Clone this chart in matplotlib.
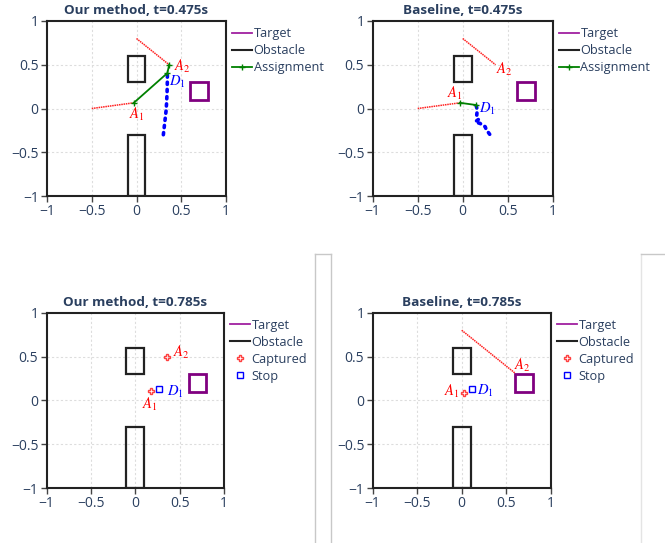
import numpy as np
import matplotlib
matplotlib.use("Agg")
import matplotlib.pyplot as plt
from matplotlib.patches import Rectangle
from matplotlib.lines import Line2D

plt.rcParams['font.family'] = ['Open Sans', 'DejaVu Sans']
plt.rcParams['mathtext.fontset'] = 'stix'

TXT = '#2a3f5f'

# panel titles
titles = ['Our method, t=0.475s', 'Baseline, t=0.475s',
          'Our method, t=0.785s', 'Baseline, t=0.785s']

# static scene
obstacles = [(-0.1, 0.3, 0.2, 0.3), (-0.1, -1.0, 0.2, 0.7)]
target = (0.6, 0.1, 0.2, 0.2)

# top row, t=0.475
a1_x = [-0.5, -0.03]
a1_y = [0.0, 0.065]
a2_x = [0.0, 0.365]
a2_y = [0.8, 0.5]
a2_late_x = [0.0, 0.6]
a2_late_y = [0.8, 0.31]

d1_ours_x = [0.30, 0.305, 0.31, 0.315, 0.32, 0.325, 0.33, 0.333, 0.336,
             0.338, 0.34, 0.342, 0.343, 0.344, 0.345, 0.345, 0.345]
d1_ours_y = [-0.30, -0.255, -0.21, -0.165, -0.12, -0.075, -0.03, 0.015, 0.06,
             0.105, 0.15, 0.195, 0.24, 0.285, 0.33, 0.375, 0.405]
d1_base_x = [0.30, 0.26, 0.25, 0.19, 0.16, 0.14, 0.178, 0.156, 0.162, 0.148]
d1_base_y = [-0.295, -0.238, -0.208, -0.169, -0.162, -0.151, -0.123, -0.074, -0.017, 0.04]

assign_ours_x = [-0.03, 0.345, 0.365]
assign_ours_y = [0.065, 0.405, 0.5]
assign_base_x = [-0.03, 0.148]
assign_base_y = [0.065, 0.04]

# bottom row, t=0.785
capt_ours_x = [0.177, 0.36]
capt_ours_y = [0.11, 0.498]
stop_ours = (0.27, 0.125)
capt_base_x = [0.026]
capt_base_y = [0.087]
stop_base = (0.112, 0.125)

# label positions: (text, x, y, colour)
labels = [
    [('$A_1$', 0.0, -0.07, 'red'), ('$A_2$', 0.51, 0.48, 'red'), ('$D_1$', 0.46, 0.30, 'blue')],
    [('$A_1$', -0.085, 0.17, 'red'), ('$A_2$', 0.46, 0.45, 'red'), ('$D_1$', 0.27, 0.0, 'blue')],
    [('$A_1$', 0.165, -0.05, 'red'), ('$A_2$', 0.52, 0.55, 'red'), ('$D_1$', 0.45, 0.10, 'blue')],
    [('$A_1$', -0.11, 0.10, 'red'), ('$A_2$', 0.685, 0.40, 'red'), ('$D_1$', 0.27, 0.105, 'blue')],
]

W, H = 665, 543
fig = plt.figure(figsize=(W / 100, H / 100), dpi=100)

boxes = [(47, 226, 21, 196), (372.7, 552.7, 21, 196),
         (46.7, 224, 312.7, 488), (372.7, 550.7, 312.7, 488)]


def make_ax(b):
    l, r, t, bt = b
    ax = fig.add_axes([l / W, 1 - bt / H, (r - l) / W, (bt - t) / H])
    ax.set_xlim(-1, 1)
    ax.set_ylim(-1, 1)
    ticks = [-1, -0.5, 0, 0.5, 1]
    ax.set_xticks(ticks)
    ax.set_yticks(ticks)
    ax.set_xticklabels(['\u22121', '\u22120.5', '0', '0.5', '1'])
    ax.set_yticklabels(['\u22121', '\u22120.5', '0', '0.5', '1'])
    ax.tick_params(direction='out', length=4, width=1, color='#444444',
                   labelcolor=TXT, labelsize=10, pad=2)
    for s in ax.spines.values():
        s.set_linewidth(1.5)
        s.set_color('#222222')
    for v in [-0.5, 0, 0.5]:
        ax.axvline(v, color='#dddddd', lw=0.8, ls=(0, (2, 2)), zorder=0)
        ax.axhline(v, color='#dddddd', lw=0.8, ls=(0, (2, 2)), zorder=0)
    for (x0, y0, w, h) in obstacles:
        ax.add_patch(Rectangle((x0, y0), w, h, fill=False, ec='#222222', lw=1.6, zorder=2))
    ax.add_patch(Rectangle(target[:2], target[2], target[3], fill=False,
                           ec='purple', lw=2, zorder=2))
    return ax


axes = [make_ax(b) for b in boxes]

red_ls = (0, (1, 0.5))
blue_ls = (0, (0.6, 1.4))

# panel 1
ax = axes[0]
ax.plot(a1_x, a1_y, color='#ff2020', lw=1.1, ls=red_ls)
ax.plot(a2_x, a2_y, color='#ff2020', lw=1.1, ls=red_ls)
ax.plot(d1_ours_x, d1_ours_y, color='blue', lw=2.6, ls=blue_ls, dash_capstyle='round')
ax.plot(assign_ours_x, assign_ours_y, color='green', lw=1.3, marker='+', ms=4, mew=1)

# panel 2
ax = axes[1]
ax.plot(a1_x, a1_y, color='#ff2020', lw=1.1, ls=red_ls)
ax.plot(a2_x, a2_y, color='#ff2020', lw=1.1, ls=red_ls)
ax.plot(d1_base_x, d1_base_y, color='blue', lw=2.6, ls=blue_ls, dash_capstyle='round')
ax.plot(assign_base_x, assign_base_y, color='green', lw=1.3, marker='+', ms=4, mew=1)

# panel 3
ax = axes[2]
ax.plot(capt_ours_x, capt_ours_y, ls='none', marker='P', ms=5, mfc='none',
        mec='#ff4040', mew=1)
ax.plot([stop_ours[0]], [stop_ours[1]], ls='none', marker='s', ms=4.2, mfc='none',
        mec='blue', mew=1)

# panel 4
ax = axes[3]
ax.plot(a2_late_x, a2_late_y, color='#ff2020', lw=1.1, ls=red_ls)
ax.plot(capt_base_x, capt_base_y, ls='none', marker='P', ms=5, mfc='none',
        mec='#ff4040', mew=1)
ax.plot([stop_base[0]], [stop_base[1]], ls='none', marker='s', ms=4.2, mfc='none',
        mec='blue', mew=1)

for ax, title, labs in zip(axes, titles, labels):
    ax.set_title(title, fontsize=9.7, fontweight='bold', color=TXT, pad=5)
    for (s, x, y, c) in labs:
        ax.text(x, y, s, color=c, fontsize=10.5, ha='center', va='center')

top_handles = [Line2D([], [], color='#a020a0', lw=1.3),
               Line2D([], [], color='#222222', lw=1.5),
               Line2D([], [], color='green', lw=1.3, marker='+', ms=4, mew=1)]
top_names = ['Target', 'Obstacle', 'Assignment']
bot_handles = [Line2D([], [], color='#a020a0', lw=1.3),
               Line2D([], [], color='#222222', lw=1.5),
               Line2D([], [], ls='none', marker='P', ms=5, mfc='none', mec='#ff4040', mew=1),
               Line2D([], [], ls='none', marker='s', ms=4.2, mfc='none', mec='blue', mew=1)]
bot_names = ['Target', 'Obstacle', 'Captured', 'Stop']

for i, ax in enumerate(axes):
    h, n = (top_handles, top_names) if i < 2 else (bot_handles, bot_names)
    wpx = boxes[i][1] - boxes[i][0]
    hpx = boxes[i][3] - boxes[i][2]
    leg = ax.legend(h, n, loc='upper left',
                    bbox_to_anchor=(1 + 6 / wpx, 1 - 6 / hpx), frameon=False,
                    fontsize=9.2, handlelength=1.55, handletextpad=0.15,
                    labelspacing=0.32, borderaxespad=0, borderpad=0)
    for t in leg.get_texts():
        t.set_color(TXT)

# page frames around the lower plots
def fline(xs, ys, c):
    fig.add_artist(Line2D([x / W for x in xs], [1 - y / H for y in ys],
                          color=c, lw=1, transform=fig.transFigure))

fline([315, 315], [254, 543], '#c8c8c8')
fline([331, 331], [254, 543], '#c8c8c8')
fline([315, 331], [254, 254], '#c8c8c8')
fline([640.5, 640.5], [254, 543], '#e4e4e4')
fline([640.5, 665], [254, 254], '#c8c8c8')

fig.savefig('out.png', dpi=100)
